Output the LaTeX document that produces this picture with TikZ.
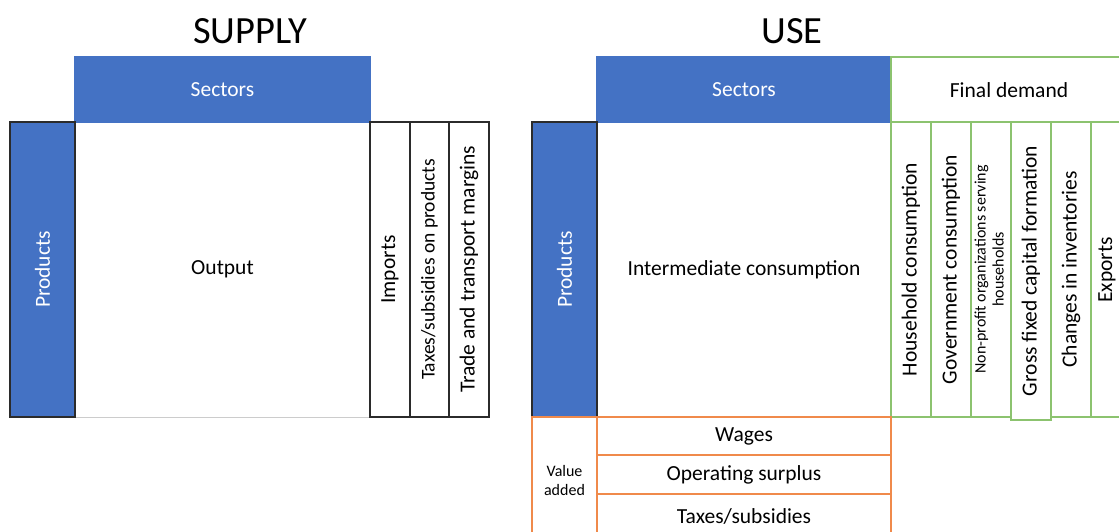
\documentclass[tikz,border=0pt]{standalone}
\usepackage{fontspec}
\setmainfont{Carlito}
\definecolor{xblue}{HTML}{4472C4}
\definecolor{xgreen}{HTML}{8CC36F}
\definecolor{xorange}{HTML}{F08A4B}
\definecolor{xdark}{HTML}{2B2B2B}
\newcommand{\vt}[1]{\rotatebox{90}{#1}}
\begin{document}
\begin{tikzpicture}[x=1pt,y=-1pt,
  box/.style={rectangle, draw, anchor=north west, inner sep=0pt, outer sep=0pt, line width=1.2pt, align=center, font=\fontsize{21.5}{25}\selectfont},
  bluebox/.style={box, fill=xblue, draw=xblue, text=white},
  darkbox/.style={box, draw=xdark, fill=white},
  greenbox/.style={box, draw=xgreen, fill=white},
  orangebox/.style={box, draw=xorange, fill=white},
  plainbox/.style={box, draw=gray!40, line width=0.8pt, fill=white},
  title/.style={font=\fontsize{38.5}{42}\selectfont, inner sep=0pt}]
\useasboundingbox (0,0) rectangle (1119,532);
\clip (0,0) rectangle (1119,532);
% SUPPLY
\node[title] (st) at (250,31) {SUPPLY};
\node[plainbox, minimum width=295pt, minimum height=295pt] (sout) at (75,122) {Output};
\node[bluebox, minimum width=295pt, minimum height=65pt] (ssec) at (75,57) {Sectors};
\node[bluebox, draw=xdark, minimum width=65pt, minimum height=295pt] (sprod) at (10,122) {\vt{Products}};
\node[darkbox, minimum width=40pt, minimum height=295pt] (simp) at (370,122) {\vt{Imports}};
\node[darkbox, minimum width=39pt, minimum height=295pt] (stax) at (410,122) {\vt{\fontsize{19.5}{22}\selectfont Taxes/subsidies on products}};
\node[darkbox, minimum width=40pt, minimum height=295pt] (strd) at (449,122) {\vt{Trade and transport margins}};
% USE
\node[title] (ut) at (792,31) {USE};
\node[plainbox, minimum width=294pt, minimum height=295pt] (uic) at (597,122) {Intermediate consumption};
\node[bluebox, minimum width=294pt, minimum height=65pt] (usec) at (597,57) {Sectors};
\node[greenbox, minimum width=240pt, minimum height=65pt] (ufd) at (891,57) {};
\node[inner sep=0pt, font=\fontsize{21.5}{25}\selectfont] (ufdt) at (1009,90) {Final demand};
\node[bluebox, draw=xdark, minimum width=65pt, minimum height=295pt] (uprod) at (532,122) {\vt{Products}};
\node[greenbox, minimum width=40pt, minimum height=295pt] (c1) at (891,122) {\vt{Household consumption}};
\node[greenbox, minimum width=40pt, minimum height=295pt] (c2) at (931,122) {\vt{Government consumption}};
\node[greenbox, minimum width=40pt, minimum height=295pt] (c3) at (971,122) {\vt{\fontsize{16}{18}\selectfont\begin{tabular}{@{}c@{}}Non-profit organizations serving\\households\end{tabular}}};
\node[greenbox, minimum width=40pt, minimum height=298pt] (c4) at (1011,122) {\vt{Gross fixed capital formation}};
\node[greenbox, minimum width=40pt, minimum height=295pt] (c5) at (1051,122) {\vt{Changes in inventories}};
\node[greenbox, minimum width=40pt, minimum height=295pt] (c6) at (1091,122) {};
\node[inner sep=0pt, rotate=90, font=\fontsize{21.5}{25}\selectfont] (c6t) at (1107,270) {Exports};
\node[orangebox, minimum width=65pt, minimum height=130pt, font=\fontsize{16}{19}\selectfont] (uva) at (532,417) {\raisebox{14pt}{\begin{tabular}{@{}c@{}}Value\\added\end{tabular}}};
\node[orangebox, minimum width=294pt, minimum height=38pt] (uw) at (597,417) {Wages};
\node[orangebox, minimum width=294pt, minimum height=39pt] (uos) at (597,455) {Operating surplus};
\node[orangebox, minimum width=294pt, minimum height=55pt] (uts) at (597,494) {\raisebox{10pt}{Taxes/subsidies}};
\end{tikzpicture}
\end{document}
